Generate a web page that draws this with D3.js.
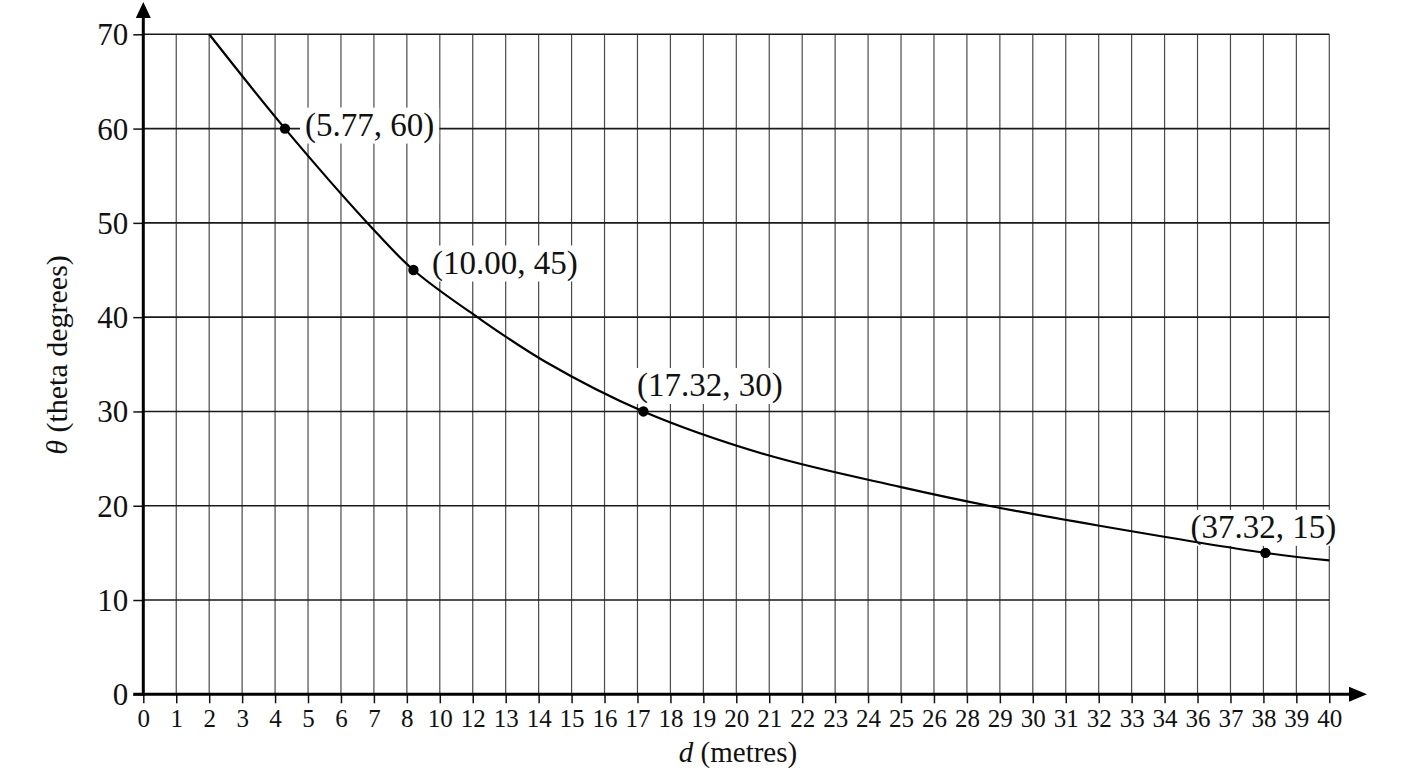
<!DOCTYPE html>
<html>
<head>
<meta charset="utf-8">
<script src="https://cdn.jsdelivr.net/npm/d3@7"></script>
<style>
  html, body { margin: 0; padding: 0; background: #ffffff; }
  svg { display: block; font-family: "Liberation Serif", "Times New Roman", serif; }
</style>
</head>
<body>
<svg id="chart" width="1408" height="768"></svg>
<script>
// ---------- data ----------
const xTickLabels = ["0","1","2","3","4","5","6","7","8","10","12","13","14","15","16","17","18","19","20","21","22","23","24","25","26","28","29","30","31","32","33","34","36","37","38","39","40"];
const yTickValues = [0, 10, 20, 30, 40, 50, 60, 70];

// curve: position along the tick row (tick index units) and theta (degrees)
const curvePos   = [2.0, 4.30, 6.88, 8.2, 10.14, 12.19, 15.18, 18.92, 22.97, 25.66, 28.98, 34.06, 36.0];
const curveTheta = [70, 60, 49.7, 45, 40.0, 35.3, 30, 25.4, 22.0, 20.0, 17.9, 15, 14.2];

// marked points
const pointPos    = [4.30, 8.2, 15.18, 34.06];
const pointTheta  = [60, 45, 30, 15];
const pointLabels = ["(5.77, 60)", "(10.00, 45)", "(17.32, 30)", "(37.32, 15)"];

const xTitle = "metres";
const yTitle = "(theta degrees)";

// ---------- layout ----------
const svg = d3.select("#chart");
const x = d3.scaleLinear().domain([0, xTickLabels.length - 1]).range([143.3, 1329.3]);
const y = d3.scaleLinear().domain([0, 70]).range([694.3, 34.3]);
const xIdx = d3.range(xTickLabels.length);

// grid
const grid = svg.append("g");
grid.selectAll("line.v").data(xIdx.slice(1)).join("line")
  .attr("x1", d => x(d)).attr("x2", d => x(d))
  .attr("y1", y(70)).attr("y2", y(0))
  .attr("stroke", "#4a4a4a").attr("stroke-width", 1.2);
grid.selectAll("line.h").data(yTickValues.slice(1)).join("line")
  .attr("x1", x(0)).attr("x2", x(xTickLabels.length - 1))
  .attr("y1", d => y(d)).attr("y2", d => y(d))
  .attr("stroke", "#1a1a1a").attr("stroke-width", 1.6);

// axes with d3 axis generators
const xAxis = d3.axisBottom(x).tickValues(xIdx).tickFormat(i => xTickLabels[i]).tickSize(9).tickPadding(6);
const gx = svg.append("g").attr("transform", `translate(0,${y(0)})`).call(xAxis);
gx.select(".domain").remove();
gx.selectAll(".tick line").attr("stroke", "#111").attr("stroke-width", 1.5);
gx.selectAll(".tick text").attr("font-family", "Liberation Serif").attr("font-size", 25).attr("fill", "#111").attr("dy", "0.7em");

const yAxis = d3.axisLeft(y).tickValues(yTickValues).tickSize(10).tickPadding(5);
const gy = svg.append("g").attr("transform", `translate(${x(0)},0)`).call(yAxis);
gy.select(".domain").remove();
gy.selectAll(".tick line").attr("stroke", "#111").attr("stroke-width", 1.5);
gy.selectAll(".tick text").attr("font-family", "Liberation Serif").attr("font-size", 31).attr("fill", "#111").attr("dy", "0.34em");

// axis lines with arrows
svg.append("line").attr("x1", x(0)).attr("x2", x(0)).attr("y1", y(0) + 1.5).attr("y2", 17)
  .attr("stroke", "#000").attr("stroke-width", 3);
svg.append("path").attr("d", `M${x(0)},2 L${x(0) - 7.5},18 L${x(0) + 7.5},18 Z`).attr("fill", "#000");
svg.append("line").attr("x1", x(0) - 10).attr("x2", 1350).attr("y1", y(0)).attr("y2", y(0))
  .attr("stroke", "#000").attr("stroke-width", 3);
svg.append("path").attr("d", `M1367,${y(0)} L1349,${y(0) - 7.5} L1349,${y(0) + 7.5} Z`).attr("fill", "#000");

// label boxes + texts
const placements = [
  { anchor: "start",  dx: 20,   dy: 7 },
  { anchor: "start",  dx: 18.5, dy: 3.5 },
  { anchor: "start",  dx: -6.5, dy: -15.5 },
  { anchor: "middle", dx: -2,   dy: -15 }
];
const boxLayer = svg.append("g");
const curveLayer = svg.append("g");
const textLayer = svg.append("g");

const labels = textLayer.selectAll("text").data(pointLabels).join("text")
  .attr("x", (d, i) => x(pointPos[i]) + placements[i].dx)
  .attr("y", (d, i) => y(pointTheta[i]) + placements[i].dy)
  .attr("text-anchor", (d, i) => placements[i].anchor)
  .attr("font-family", "Liberation Serif").attr("font-size", 33).attr("fill", "#111")
  .text(d => d);

labels.each(function () {
  const b = this.getBBox();
  boxLayer.append("rect")
    .attr("x", b.x - 5).attr("y", b.y + 1).attr("width", b.width + 10).attr("height", b.height - 1)
    .attr("fill", "#ffffff");
});

// curve
const line = d3.line().x(i => x(curvePos[i])).y(i => y(curveTheta[i])).curve(d3.curveCatmullRom.alpha(0.5));
curveLayer.append("path").attr("d", line(d3.range(curvePos.length)))
  .attr("fill", "none").attr("stroke", "#000").attr("stroke-width", 2.2);
curveLayer.selectAll("circle").data(pointPos).join("circle")
  .attr("cx", d => x(d)).attr("cy", (d, i) => y(pointTheta[i])).attr("r", 5.2).attr("fill", "#000");

// axis titles
const xt = svg.append("text").attr("x", 738).attr("y", 762).attr("text-anchor", "middle")
  .attr("font-family", "Liberation Serif").attr("font-size", 29).attr("fill", "#111");
xt.append("tspan").attr("font-style", "italic").text("d");
xt.append("tspan").text(" (" + xTitle + ")");

const yt = svg.append("text").attr("transform", "translate(67,355) rotate(-90)").attr("text-anchor", "middle")
  .attr("font-family", "Liberation Serif").attr("font-size", 30).attr("fill", "#111");
yt.append("tspan").attr("font-style", "italic").text("θ");
yt.append("tspan").text(" " + yTitle);
</script>
</body>
</html>
